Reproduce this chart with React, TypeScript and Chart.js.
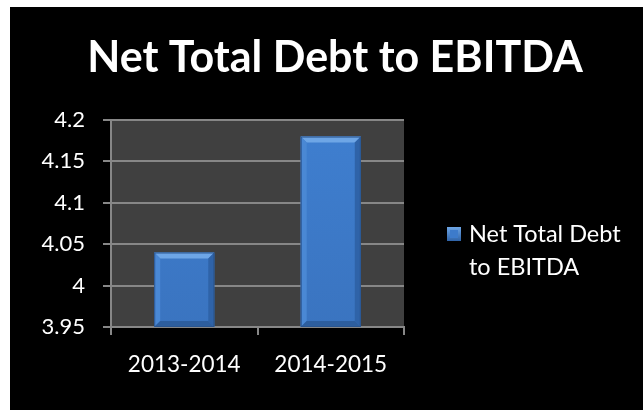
import React, { useEffect, useRef } from "react";
import { Chart, registerables } from "chart.js";

Chart.register(...registerables);

// Data
const periods = ["2013-2014", "2014-2015"];
const netDebtToEbitda = [4.04, 4.18];
const seriesName = "Net Total Debt to EBITDA";
const legendLines = ["Net Total Debt", "to EBITDA"];
const chartTitle = "Net Total Debt to EBITDA";
const yMin = 3.95;
const yMax = 4.2;
const yStep = 0.05;

const FONT = "Lato, 'Open Sans', sans-serif";
const GRID = "#878787";
const PLOT_BG = "#404040";

// Dark plot area behind the bars
const plotBackground = {
  id: "plotBackground",
  beforeDraw(chart: any) {
    const { ctx, chartArea: a } = chart;
    ctx.save();
    ctx.fillStyle = PLOT_BG;
    ctx.fillRect(a.left, a.top, a.right - a.left, a.bottom - a.top);
    ctx.restore();
  },
};

// Bevelled edges on each bar
const barBevel = {
  id: "barBevel",
  afterDatasetsDraw(chart: any) {
    const { ctx, chartArea } = chart;
    const meta = chart.getDatasetMeta(0);
    meta.data.forEach((bar: any) => {
      const p = bar.getProps(["x", "y", "base", "width"], true);
      const l = p.x - p.width / 2;
      const r = p.x + p.width / 2;
      const t = Math.max(p.y, chartArea.top);
      const b = Math.min(p.base, chartArea.bottom);
      const e = 6;
      ctx.save();
      // top
      ctx.fillStyle = "#6ea6e6";
      ctx.beginPath();
      ctx.moveTo(l, t);
      ctx.lineTo(r, t);
      ctx.lineTo(r - e, t + e);
      ctx.lineTo(l + e, t + e);
      ctx.closePath();
      ctx.fill();
      // left
      ctx.fillStyle = "#4a88d4";
      ctx.beginPath();
      ctx.moveTo(l, t);
      ctx.lineTo(l + e, t + e);
      ctx.lineTo(l + e, b - e);
      ctx.lineTo(l, b);
      ctx.closePath();
      ctx.fill();
      // right
      ctx.fillStyle = "#2f63a8";
      ctx.beginPath();
      ctx.moveTo(r, t);
      ctx.lineTo(r - e, t + e);
      ctx.lineTo(r - e, b - e);
      ctx.lineTo(r, b);
      ctx.closePath();
      ctx.fill();
      // bottom
      ctx.fillStyle = "#2d5e9e";
      ctx.beginPath();
      ctx.moveTo(l, b);
      ctx.lineTo(l + e, b - e);
      ctx.lineTo(r - e, b - e);
      ctx.lineTo(r, b);
      ctx.closePath();
      ctx.fill();
      ctx.strokeStyle = "#2a5690";
      ctx.lineWidth = 1;
      ctx.strokeRect(l + 0.5, t + 0.5, r - l - 1, b - t - 1);
      ctx.restore();
    });
  },
};

// Title and legend drawn on the canvas
const headerAndLegend = {
  id: "headerAndLegend",
  afterDraw(chart: any) {
    const { ctx } = chart;
    ctx.save();
    ctx.fillStyle = "#ffffff";
    ctx.textBaseline = "alphabetic";
    ctx.textAlign = "center";
    ctx.font = `bold 43px ${FONT}`;
    ctx.fillText(chartTitle, 325, 65);

    // legend swatch
    const bx = 437, by = 220, bs = 14;
    const g = ctx.createLinearGradient(0, by, 0, by + bs);
    g.addColorStop(0, "#6ea6e6");
    g.addColorStop(1, "#2f63a8");
    ctx.fillStyle = g;
    ctx.fillRect(bx, by, bs, bs);
    ctx.fillStyle = "#3d7bcb";
    ctx.fillRect(bx + 3, by + 3, bs - 6, bs - 6);

    ctx.fillStyle = "#ffffff";
    ctx.textAlign = "left";
    ctx.font = `23.5px ${FONT}`;
    ctx.fillText(legendLines[0], 459, 235);
    ctx.fillText(legendLines[1], 459, 268);
    ctx.restore();
  },
};

export default function App() {
  const ref = useRef<HTMLCanvasElement | null>(null);

  useEffect(() => {
    if (!ref.current) return;
    const chart = new Chart(ref.current, {
      type: "bar",
      data: {
        labels: periods,
        datasets: [
          {
            label: seriesName,
            data: netDebtToEbitda,
            backgroundColor: (c: any) => {
              const area = c.chart.chartArea;
              if (!area) return "#3d7bcb";
              const g = c.chart.ctx.createLinearGradient(0, area.top, 0, area.bottom);
              g.addColorStop(0, "#3f7fd0");
              g.addColorStop(1, "#3a74c0");
              return g;
            },
            borderWidth: 0,
            barPercentage: 0.41,
            categoryPercentage: 1,
          },
        ],
      },
      options: {
        animation: false,
        responsive: false,
        maintainAspectRatio: false,
        layout: { padding: { top: 113, right: 239, left: 0, bottom: 0 } },
        plugins: {
          legend: { display: false },
          title: { display: false },
          tooltip: { enabled: false },
        },
        scales: {
          x: {
            afterFit: (s: any) => {
              s.height = 83;
            },
            grid: {
              display: true,
              drawOnChartArea: false,
              drawTicks: true,
              tickLength: 8,
              color: GRID,
              lineWidth: 2,
            },
            border: { display: true, color: GRID, width: 2 },
            ticks: {
              color: "#ffffff",
              padding: 16,
              font: { family: FONT, size: 22.5 },
            },
          },
          y: {
            min: yMin,
            max: yMax,
            afterFit: (s: any) => {
              s.width = 101;
            },
            grid: {
              color: GRID,
              lineWidth: 2,
              tickLength: 8,
              drawTicks: true,
            },
            border: { display: true, color: GRID, width: 2 },
            ticks: {
              stepSize: yStep,
              color: "#ffffff",
              padding: 18,
              font: { family: FONT, size: 22 },
              callback: (v: any) => String(Number(Number(v).toFixed(2))),
            },
          },
        },
      },
      plugins: [plotBackground, barBevel, headerAndLegend],
    });
    return () => chart.destroy();
  }, []);

  return (
    <div
      style={{
        position: "fixed",
        left: 10,
        top: 7,
        width: 633,
        height: 403,
        background: "#000000",
      }}
    >
      <canvas ref={ref} width={633} height={403} style={{ display: "block" }} />
    </div>
  );
}
